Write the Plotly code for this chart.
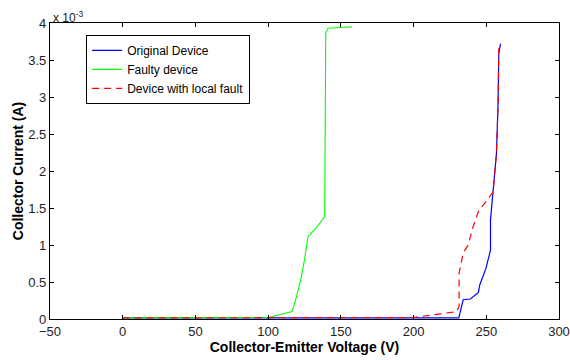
import plotly.graph_objects as go

# Collector-emitter voltage (V) and collector current (in units of 1e-3 A)
orig_v = [0, 50, 100, 150, 200, 231.1, 234.1, 239.1, 244.6, 245.5, 249.7, 252.9,
          252.9, 254.7, 257.0, 258.1, 258.6, 259.8]
orig_i = [0.015, 0.015, 0.015, 0.015, 0.015, 0.015, 0.26, 0.27, 0.36, 0.46, 0.68, 0.93,
          1.34, 1.70, 2.24, 2.91, 3.59, 3.72]

faulty_v = [0, 50, 95, 100, 105, 110, 116.4, 119.5, 122.4, 125.0, 127.4, 132.5,
            136.9, 138.9, 139.6, 141.2, 150.0, 157.7]
faulty_i = [0.015, 0.015, 0.015, 0.02, 0.045, 0.07, 0.10, 0.30, 0.53, 0.80, 1.11, 1.22,
            1.34, 1.38, 3.86, 3.93, 3.94, 3.95]

local_v = [0, 50, 100, 150, 199.7, 215, 229.5, 231.3, 231.3, 234.1, 237.5, 241.0,
           244.9, 250.1, 254.7, 257.0, 258.1, 258.6]
local_i = [0.015, 0.015, 0.015, 0.015, 0.02, 0.06, 0.10, 0.17, 0.62, 0.89, 1.00, 1.25,
           1.47, 1.59, 1.72, 2.24, 2.91, 3.66]

x_ticks = [-50, 0, 50, 100, 150, 200, 250, 300]
y_ticks = [0, 0.5, 1, 1.5, 2, 2.5, 3, 3.5, 4]
y_tick_text = ["0", "0.5", "1", "1.5", "2", "2.5", "3", "3.5", "4"]

FONT = "Liberation Sans, Arial, sans-serif"

fig = go.Figure()
fig.add_trace(go.Scatter(x=orig_v, y=orig_i, mode="lines", name="Original Device",
                         line=dict(color="#0000FF", width=1.2)))
fig.add_trace(go.Scatter(x=faulty_v, y=faulty_i, mode="lines", name="Faulty device",
                         line=dict(color="#00FF00", width=1.1)))
fig.add_trace(go.Scatter(x=local_v, y=local_i, mode="lines", name="Device with local fault",
                         line=dict(color="#FF0000", width=1.2, dash="7px,5px")))

axis_common = dict(
    showline=True, linecolor="black", linewidth=1.3, mirror="ticks",
    ticks="inside", ticklen=4, tickcolor="black", tickwidth=1,
    showgrid=False, zeroline=False, automargin=False,
    tickfont=dict(family=FONT, size=13, color="#222"),
)

fig.update_xaxes(range=[-50, 300], tickvals=x_ticks,
                 title=dict(text="<b>Collector-Emitter Voltage (V)</b>",
                            font=dict(family=FONT, size=14, color="black"), standoff=1),
                 **axis_common)
fig.update_yaxes(range=[0, 4], tickvals=y_ticks, ticktext=y_tick_text,
                 title=dict(text="<b>Collector Current (A)</b>",
                            font=dict(family=FONT, size=14, color="black"), standoff=1),
                 **axis_common)

fig.add_annotation(xref="paper", yref="paper", x=0.0, y=1.0, xanchor="left", yanchor="bottom",
                   text="x 10<sup>-3</sup>", showarrow=False, xshift=1, yshift=-4,
                   font=dict(family=FONT, size=12, color="#222"))

fig.update_layout(
    width=570, height=360,
    margin=dict(l=50, r=11, t=23, b=41),
    paper_bgcolor="white", plot_bgcolor="white",
    showlegend=True,
    legend=dict(x=0.071, y=0.96, xanchor="left", yanchor="top",
                bgcolor="white", bordercolor="black", borderwidth=1,
                font=dict(family=FONT, size=12, color="black"),
                tracegroupgap=0, itemwidth=30),
)

fig.write_html("out.html")
